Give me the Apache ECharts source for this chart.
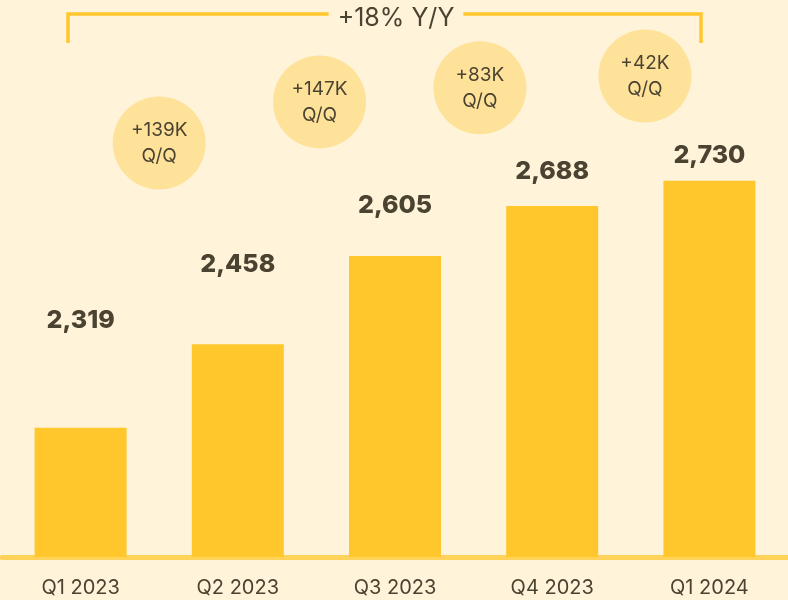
<!DOCTYPE html>
<html>
<head>
<meta charset="utf-8">
<script src="https://cdn.jsdelivr.net/npm/echarts@6/dist/echarts.min.js"></script>
<style>
  html, body { margin: 0; padding: 0; background: #FFF3D9; }
  #chart { width: 788px; height: 600px; }
</style>
</head>
<body>
<div id="chart"></div>
<script>
// quarterly values (thousands)
const quarters = ["Q1 2023", "Q2 2023", "Q3 2023", "Q4 2023", "Q1 2024"];
const values = [2319, 2458, 2605, 2688, 2730];

const textColor = "#4B4331";
const font = "Inter, 'Noto Sans', sans-serif";

// Q/Q changes and the Y/Y growth come straight from the values
const qoq = values.slice(1).map((v, i) => "+" + (v - values[i]) + "K");
const yoy = Math.round((values[values.length - 1] / values[0] - 1) * 100);

// where the Q/Q bubbles sit (x in category units, y on the label axis)
const bubbleX = [1.0, 2.02, 3.04, 4.09];
const bubbleY = [2760, 2862, 2897, 2926];

const chart = echarts.init(document.getElementById("chart"));

const options = {
    backgroundColor: "#FFF3D9",
    animation: false,
    grid: { left: 2, right: 0, top: 0, bottom: 43 },
    xAxis: [
        {
            type: "category",
            data: quarters,
            axisTick: { show: false },
            axisLine: { lineStyle: { color: "#FFD25A", width: 5 } },
            axisLabel: {
                color: textColor,
                fontFamily: font,
                fontSize: 20,
                margin: 21,
            },
        },
        { type: "value", min: 0, max: 5, show: false },
    ],
    yAxis: [
        { type: "value", min: 2104, max: 3031, show: false },
        { type: "value", min: 1732, max: 3115, show: false },
    ],
    series: [
        {
            type: "bar",
            data: values,
            barWidth: 92,
            itemStyle: { color: "#FFC72C" },
        },
        {
            // value labels
            type: "scatter",
            yAxisIndex: 1,
            data: values,
            symbolSize: 1,
            itemStyle: { color: "rgba(0,0,0,0)", opacity: 1 },
            label: {
                show: true,
                position: "inside",
                formatter: (p) => p.value.toLocaleString("en-US"),
                color: textColor,
                fontFamily: font,
                fontWeight: 800,
                fontSize: 25,
            },
        },
        {
            // Q/Q bubbles
            type: "scatter",
            xAxisIndex: 1,
            yAxisIndex: 1,
            data: qoq.map((t, i) => ({ name: t, value: [bubbleX[i], bubbleY[i]] })),
            symbolSize: 93,
            itemStyle: { color: "#FFE29A", opacity: 1 },
            label: {
                show: true,
                position: "inside",
                formatter: "{b}\nQ/Q",
                color: textColor,
                fontFamily: font,
                fontSize: 19,
                lineHeight: 26,
            },
        },
    ],
    graphic: [
        {
            type: "polyline",
            shape: { points: [[68, 43], [68, 14], [701, 14], [701, 43]] },
            style: { stroke: "#FFC72C", lineWidth: 3.5, fill: null },
        },
        {
            type: "text",
            x: 396,
            y: 18,
            style: {
                text: "+" + yoy + "% Y/Y",
                fill: textColor,
                font: "25px " + font,
                align: "center",
                verticalAlign: "middle",
                backgroundColor: "#FFF3D9",
                padding: [2, 9],
            },
        },
    ],
};

chart.setOption(options);
window.addEventListener("resize", () => {
    chart.resize();
});
</script>
</body>
</html>
